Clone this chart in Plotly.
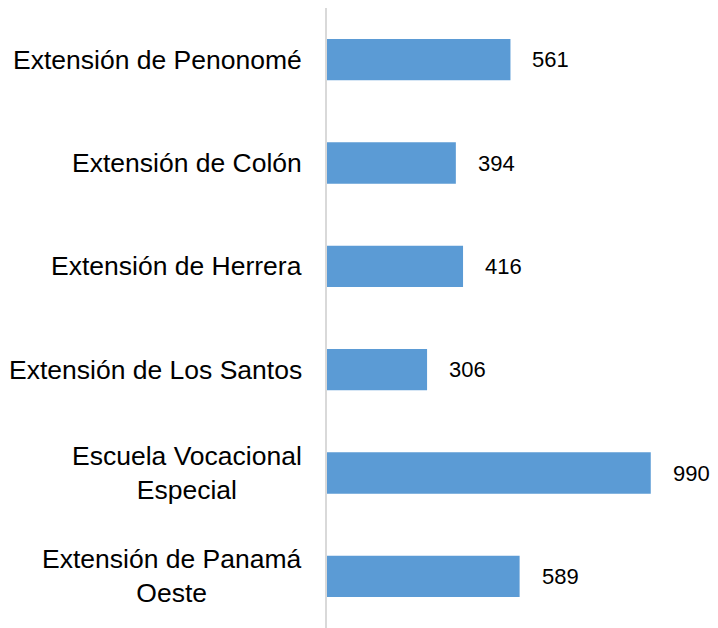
import plotly.graph_objects as go

# Category labels (top to bottom) and enrolment values
categorias = [
    "Extensión de Penonomé",
    "Extensión de Colón",
    "Extensión de Herrera",
    "Extensión de Los Santos",
    "Escuela Vocacional<br>Especial",
    "Extensión de Panamá<br>Oeste",
]
valores = [561, 394, 416, 306, 990, 589]

fig = go.Figure(go.Bar(
    x=valores,
    y=categorias,
    orientation="h",
    width=0.4,
    marker=dict(color="#5B9BD5", line=dict(width=0)),
    hoverinfo="x+y",
))

# Category labels as centred multi-line annotations
for cat in categorias:
    fig.add_annotation(
        x=0, xref="paper", y=cat, yref="y",
        text=cat, showarrow=False,
        xanchor="right", align="center", xshift=-23,
        font=dict(family="Liberation Sans, Arial", size=26.5, color="#000000"),
    )

# Value labels to the right of each bar
for cat, v in zip(categorias, valores):
    fig.add_annotation(
        x=v, y=cat, text=str(v), showarrow=False,
        xanchor="left", xshift=20,
        font=dict(family="Liberation Sans, Arial", size=22, color="#000000"),
    )

# page body has an 8px default margin, so the figure is sized to fit inside it
fig.update_layout(
    width=710, height=620,
    margin=dict(l=319, r=28, t=0, b=0),
    paper_bgcolor="white", plot_bgcolor="white",
    showlegend=False,
    xaxis=dict(range=[0, 1110], visible=False, showgrid=False, zeroline=False),
    yaxis=dict(
        autorange="reversed", showticklabels=False, ticks="",
        showline=True, linecolor="#D9D9D9", linewidth=1.5,
        showgrid=False, zeroline=False,
    ),
)

fig.write_html("out.html")
